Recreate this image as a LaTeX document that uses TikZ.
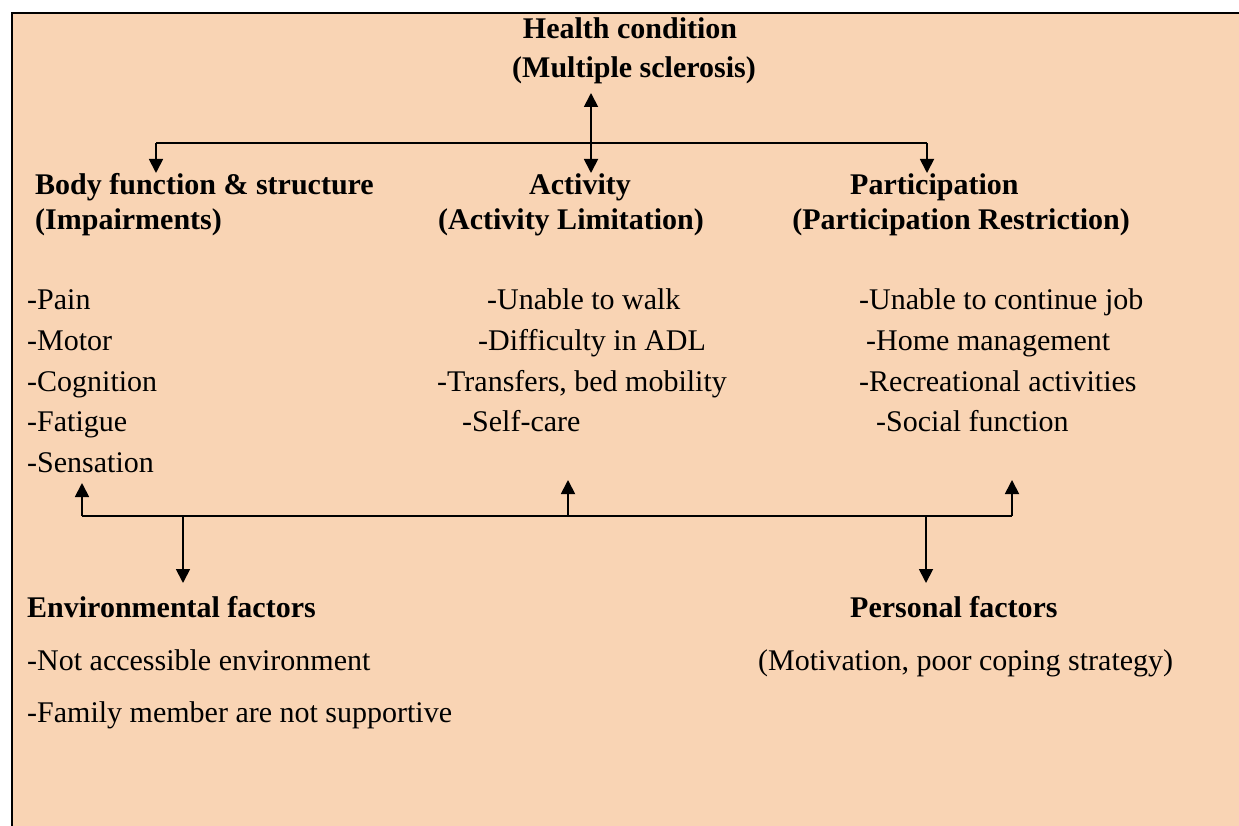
\documentclass[tikz,border=0pt]{standalone}
\usepackage{fontspec}
\setmainfont{Liberation Serif}
\usetikzlibrary{arrows.meta}
\definecolor{peach}{RGB}{249,212,180}
\begin{document}
\begin{tikzpicture}[x=1pt,y=-1pt,
  lbl/.style={inner sep=0pt, font=\fontsize{30}{36}\selectfont},
  hd/.style={inner sep=0pt, font=\fontsize{30}{36}\selectfont\bfseries},
  conn/.style={line width=1.8pt, draw=black},
  arr/.style={conn, -{Triangle[length=14pt,width=14pt]}},
  darr/.style={conn, {Triangle[length=14pt,width=14pt]}-{Triangle[length=14pt,width=14pt]}}]
\useasboundingbox (0,0) rectangle (1239,826);
\fill[white] (0,0) rectangle (1239,826);
\fill[peach] (12,13) rectangle (1239,826);
\draw[line width=2pt] (12,826) -- (12,13) -- (1239,13);

% titles
\node[hd, anchor=base] (hc1) at (630,39) {Health condition};
\node[hd, anchor=base] (hc2) at (634,78) {(Multiple sclerosis)};

\node[hd, anchor=base west] (bf1) at (35,195) {Body function \& structure};
\node[hd, anchor=base west] (bf2) at (35,230) {(Impairments)};
\node[hd, anchor=base] (ac1) at (580,195) {Activity};
\node[hd, anchor=base] (ac2) at (571,230) {(Activity Limitation)};
\node[hd, anchor=base west] (pa1) at (850,195) {Participation};
\node[hd, anchor=base east] (pa2) at (1130,230) {(Participation Restriction)};

% lists
\node[lbl, anchor=base west] (l1) at (27,309) {-Pain};
\node[lbl, anchor=base west] (l2) at (27,350) {-Motor};
\node[lbl, anchor=base west] (l3) at (27,391) {-Cognition};
\node[lbl, anchor=base west] (l4) at (27,431) {-Fatigue};
\node[lbl, anchor=base west] (l5) at (27,472) {-Sensation};

\node[lbl, anchor=base west] (m1) at (487,309) {-Unable to walk};
\node[lbl, anchor=base west] (m2) at (478,350) {-Difficulty in ADL};
\node[lbl, anchor=base west] (m3) at (437,391) {-Transfers, bed mobility};
\node[lbl, anchor=base west] (m4) at (462,431) {-Self-care};

\node[lbl, anchor=base west] (r1) at (859,309) {-Unable to continue job};
\node[lbl, anchor=base west] (r2) at (866,350) {-Home management};
\node[lbl, anchor=base west] (r3) at (859,391) {-Recreational activities};
\node[lbl, anchor=base west] (r4) at (876,431) {-Social function};

% bottom
\node[hd, anchor=base west] (env) at (27,617) {Environmental factors};
\node[lbl, anchor=base west] (e1) at (27,670) {-Not accessible environment};
\node[lbl, anchor=base west] (e2) at (27,722) {-Family member are not supportive};
\node[hd, anchor=base west] (pf) at (850,617) {Personal factors};
\node[lbl, anchor=base west] (pf1) at (758,670) {(Motivation, poor coping strategy)};

% top connectors
\coordinate (hcTip) at (591,93);
\coordinate (acTip) at (591,173);
\coordinate (tL) at (156,143);
\coordinate (tR) at (927,143);
\coordinate (bfTip) at (156,173);
\coordinate (paTip) at (927,173);
\draw[conn] (tL) -- (tR);
\draw[arr] (tL) -- (bfTip);
\draw[arr] (tR) -- (paTip);
\draw[darr] (hcTip) -- (acTip);

% bottom connectors
\coordinate (bL) at (82,516);
\coordinate (bR) at (1012,516);
\coordinate (bM) at (568,516);
\coordinate (bE) at (183,516);
\coordinate (bP) at (926,516);
\coordinate (lTip) at (82,483);
\coordinate (mTip) at (568,480);
\coordinate (rTip) at (1012,480);
\coordinate (eTip) at (183,583);
\coordinate (pTip) at (926,583);
\draw[conn] (bL) -- (bR);
\draw[arr] (bL) -- (lTip);
\draw[arr] (bM) -- (mTip);
\draw[arr] (bR) -- (rTip);
\draw[arr] (bE) -- (eTip);
\draw[arr] (bP) -- (pTip);
\end{tikzpicture}
\end{document}
